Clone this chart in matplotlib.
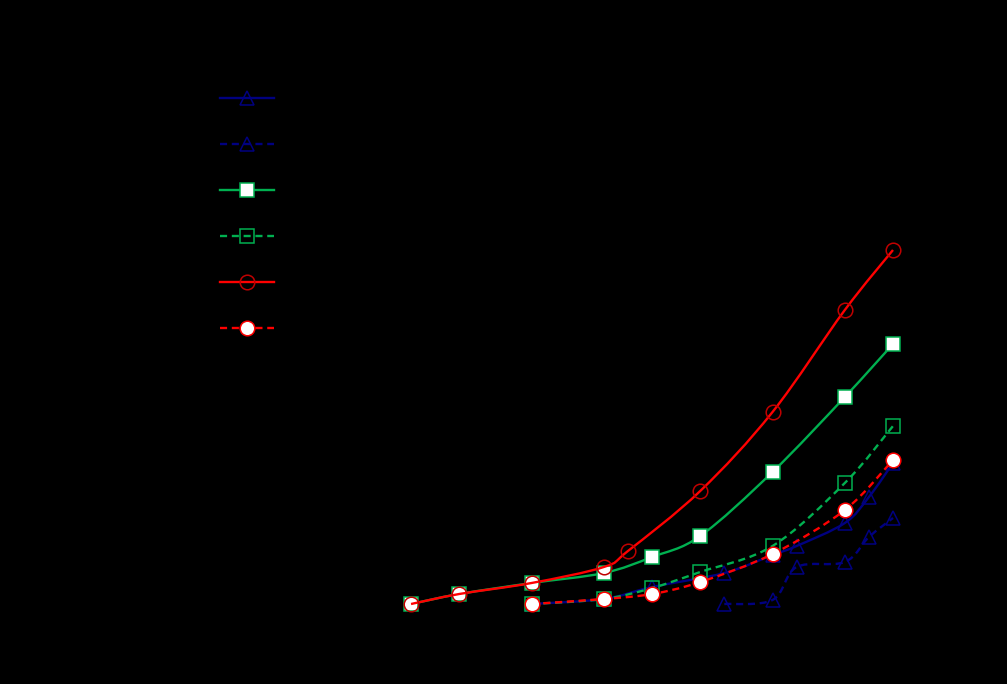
import numpy as np
import matplotlib
matplotlib.use("Agg")
import matplotlib.pyplot as plt
from matplotlib.path import Path
from matplotlib.patches import PathPatch
from matplotlib.lines import Line2D

# --- data (x in steps, y in arbitrary units) ---
labels = ["Series 1", "Series 2", "Series 3", "Series 4", "Series 5", "Series 6"]

x_blue_solid = [5, 8, 10, 13, 15, 16, 18, 19, 20]
y_blue_solid = [0.0, 0.5, 1.7, 3.1, 4.9, 5.8, 8.1, 10.7, 14.1]

x_blue_dash = [13, 15, 16, 18, 19, 20]
y_blue_dash = [0.0, 0.4, 3.7, 4.2, 6.7, 8.6]

x_green_solid = [0, 2, 5, 8, 10, 12, 15, 18, 20]
y_green_solid = [0.0, 1.0, 2.1, 3.1, 4.7, 6.8, 13.2, 20.7, 26.0]

x_green_dash = [5, 8, 10, 12, 15, 18, 20]
y_green_dash = [0.0, 0.5, 1.6, 3.2, 5.8, 12.1, 17.8]

x_red_solid = [0, 2, 5, 8, 9, 12, 15, 18, 20]
y_red_solid = [0.0, 1.0, 2.1, 3.7, 5.3, 11.3, 19.2, 29.4, 35.4]

x_red_dash = [5, 8, 10, 12, 15, 18, 20]
y_red_dash = [0.0, 0.5, 1.0, 2.2, 5.0, 9.4, 14.4]

NAVY = "#000080"
GREEN = "#00B050"
RED = "#FF0000"
DARKRED = "#C00000"

series = [
    (x_blue_solid, y_blue_solid, dict(color=NAVY, ls="-", marker="^", mfc="none", mec=NAVY)),
    (x_blue_dash, y_blue_dash, dict(color=NAVY, ls="--", marker="^", mfc="none", mec=NAVY)),
    (x_green_solid, y_green_solid, dict(color=GREEN, ls="-", marker="s", mfc="white", mec=GREEN)),
    (x_green_dash, y_green_dash, dict(color=GREEN, ls="--", marker="s", mfc="none", mec=GREEN)),
    (x_red_solid, y_red_solid, dict(color=RED, ls="-", marker="o", mfc="none", mec=DARKRED)),
    (x_red_dash, y_red_dash, dict(color=RED, ls="--", marker="o", mfc="white", mec=RED)),
]


def smooth_path(xs, ys):
    """Catmull-Rom style smoothed line through the points, as cubic Beziers."""
    p = np.column_stack([xs, ys]).astype(float)
    ext = np.vstack([p[0], p, p[-1]])
    verts = [tuple(p[0])]
    codes = [Path.MOVETO]
    for i in range(len(p) - 1):
        p0, p1, p2, p3 = ext[i], ext[i + 1], ext[i + 2], ext[i + 3]
        c1 = p1 + (p2 - p0) / 6.0
        c2 = p2 - (p3 - p1) / 6.0
        verts += [tuple(c1), tuple(c2), tuple(p2)]
        codes += [Path.CURVE4] * 3
    return Path(verts, codes)


fig = plt.figure(figsize=(10.07, 6.84), dpi=100, facecolor="black")
ax = fig.add_axes([205 / 1007, 60 / 684, 735 / 1007, 564 / 684])
ax.set_facecolor("black")

handles = []
for i, (xs, ys, st) in enumerate(series):
    z = 3 + i
    dashes = (3, 2) if st["ls"] == "--" else None
    patch = PathPatch(smooth_path(xs, ys), facecolor="none", edgecolor=st["color"],
                      lw=1.7, zorder=z)
    if dashes:
        patch.set_linestyle((0, dashes))
    ax.add_patch(patch)
    ax.plot(xs, ys, ls="none", marker=st["marker"], ms=10.5, mfc=st["mfc"],
            mec=st["mec"], mew=1.1, zorder=z + 0.5)
    h = Line2D([], [], color=st["color"], lw=1.7, ls=st["ls"], marker=st["marker"],
               ms=10.5, mfc=st["mfc"], mec=st["mec"], mew=1.1)
    if dashes:
        h.set_dashes(dashes)
    handles.append(h)

ax.set_xlim(-8.55, 21.95)
ax.set_ylim(-2, 54.4)
for sp in ax.spines.values():
    sp.set_color("black")
ax.tick_params(colors="black", labelcolor="black")

leg = fig.legend(handles, labels, loc="upper left", bbox_to_anchor=(212 / 1007, 1 - 82 / 684),
                 bbox_transform=fig.transFigure, borderaxespad=0, frameon=False,
                 fontsize=14, handlelength=2.78, labelspacing=1.385)
for t in leg.get_texts():
    t.set_color("black")

fig.savefig("out.png", dpi=100, facecolor="black")
